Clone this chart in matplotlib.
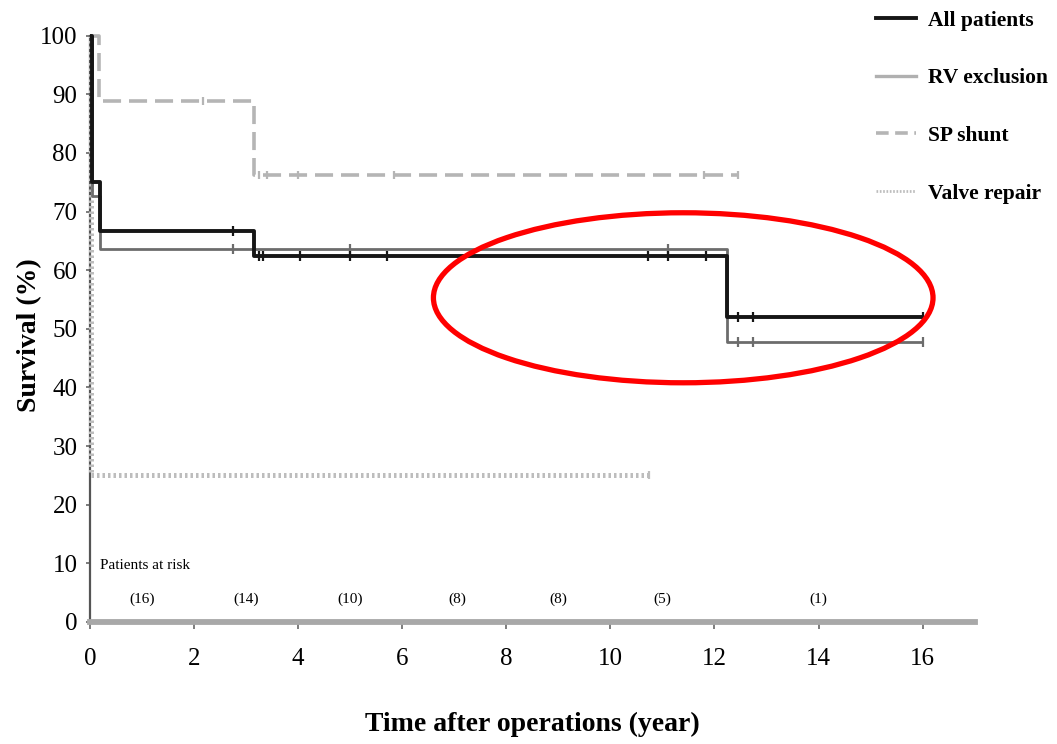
#!/usr/bin/env python3

"""
Kaplan-Meier survival curves after operation, with patients at risk
"""

import numpy as np
import matplotlib.pyplot as plt
from matplotlib.lines import Line2D
from matplotlib.patches import Ellipse

# ============================================================
# Data
# ============================================================

# All patients
all_time = [0, 0.03, 0.2, 3.15, 12.25, 16.0]
all_surv = [100, 75.0, 66.7, 62.5, 52.0, 52.0]
all_censor = [2.75, 3.25, 3.33, 4.04, 5.0, 5.71, 10.73, 11.1, 11.83, 12.46, 12.75, 16.0]

# RV exclusion
rv_time = [0, 0.03, 0.2, 12.25, 16.0]
rv_surv = [100, 72.7, 63.6, 47.7, 47.7]
rv_censor = [2.75, 5.0, 11.1, 12.46, 12.75, 16.0]

# SP shunt
sp_time = [0, 0.17, 3.15, 12.45]
sp_surv = [100, 88.9, 76.2, 76.2]
sp_censor = [2.17, 3.25, 3.4, 4.0, 5.85, 11.8, 12.45]

# Valve repair
vr_time = [0, 0.02, 10.75]
vr_surv = [100, 25.0, 25.0]
vr_censor = [10.75]

# Patients at risk
risk_time = [1.0, 3.0, 5.0, 7.05, 9.0, 11.0, 14.0]
risk_count = [16, 14, 10, 8, 8, 5, 1]

x_ticks = [0, 2, 4, 6, 8, 10, 12, 14, 16]
y_ticks = [0, 10, 20, 30, 40, 50, 60, 70, 80, 90, 100]

# ============================================================
# Helpers
# ============================================================

def surv_at(times, surv, t):
    idx = np.searchsorted(times, t, side="right") - 1
    return np.asarray(surv)[idx]


def draw_curve(ax, times, surv, censor, color, lw, ls, tick_h):
    ax.step(times, surv, where="post", color=color, linewidth=lw,
            linestyle=ls, solid_capstyle="butt", clip_on=False, zorder=3)
    cy = surv_at(times, surv, censor)
    ax.plot(censor, cy, linestyle="none", marker="|", markersize=tick_h,
            markeredgewidth=1.6, color=color, clip_on=False, zorder=4)


# ============================================================
# Figure
# ============================================================

plt.rcParams["font.family"] = ["Liberation Serif", "DejaVu Serif"]

fig = plt.figure(figsize=(10.57, 7.44), dpi=100)
ax = fig.add_axes([0.0851, 0.164, 0.837, 0.788])

draw_curve(ax, vr_time, vr_surv, vr_censor, "#bdbdbd", 3.6, (0, (0.5, 0.6)), 6)
draw_curve(ax, sp_time, sp_surv, sp_censor, "#b5b5b5", 2.6, (0, (5, 2.2)), 6)
draw_curve(ax, rv_time, rv_surv, rv_censor, "#6c6c6c", 2.0, "-", 7)
draw_curve(ax, all_time, all_surv, all_censor, "#161616", 2.8, "-", 7)

# Patients at risk
ax.text(0.2, 9.7, "Patients at risk", fontsize=11, ha="left", va="center")
for t, n in zip(risk_time, risk_count):
    ax.text(t, 3.8, f"({n})", fontsize=11, ha="center", va="center")

# Highlight ellipse
ax.add_patch(Ellipse((11.4, 55.3), 9.6, 29.0, fill=False,
                     edgecolor="#ff0000", linewidth=3.8, zorder=5, clip_on=False))

# Axes styling
ax.set_xlim(0, 17)
ax.set_ylim(0, 100)
ax.set_xticks(x_ticks)
ax.set_yticks(y_ticks)
ax.tick_params(axis="x", direction="out", length=5, width=1.2, color="#666666",
               labelsize=18, pad=14)
ax.tick_params(axis="y", direction="out", length=3, width=1.2, color="#666666",
               labelsize=18, pad=6)

for name in ["top", "right"]:
    ax.spines[name].set_visible(False)
ax.spines["left"].set_color("#555555")
ax.spines["left"].set_linewidth(1.6)
ax.spines["bottom"].set_color("#a8a8a8")
ax.spines["bottom"].set_linewidth(4.2)

ax.set_xlabel("Time after operations (year)", fontsize=20, fontweight="bold",
              labelpad=30)
fig.text(30 / 1057, 1 - 335 / 744, "Survival (%)", rotation=90, fontsize=20,
         fontweight="bold", ha="center", va="center")

# Legend
handles = [
    Line2D([], [], color="#161616", linewidth=2.8),
    Line2D([], [], color="#b0b0b0", linewidth=2.4),
    Line2D([], [], color="#b5b5b5", linewidth=2.6, linestyle=(0, (3.5, 1.8))),
    Line2D([], [], color="#bdbdbd", linewidth=2.0, linestyle=(0, (0.6, 0.6))),
]
labels = ["All patients", "RV exclusion", "SP shunt", "Valve repair"]
fig.legend(handles, labels, loc="upper left", bbox_to_anchor=(0.81, 1.012),
           frameon=False, prop={"size": 15.5, "weight": "bold"},
           handlelength=1.9, handletextpad=0.55, labelspacing=1.75)

fig.savefig("out.png", dpi=100)
plt.close(fig)
